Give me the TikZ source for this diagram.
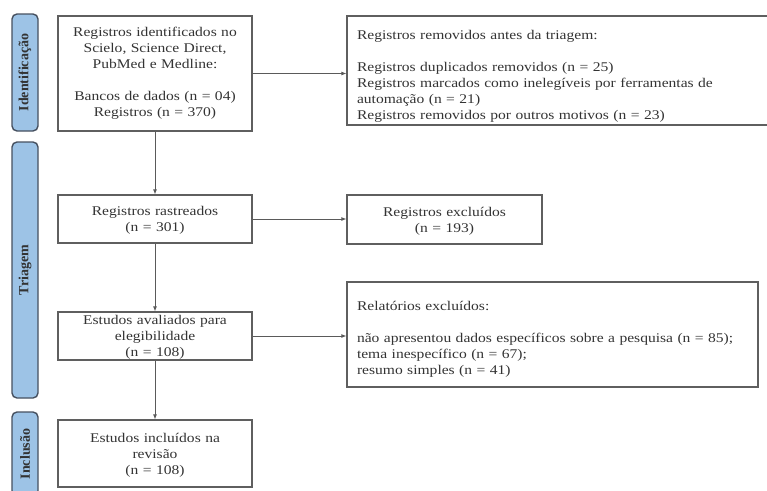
\documentclass[tikz,border=0pt]{standalone}
\usepackage{fontspec}
\setmainfont[FakeStretch=1.17]{Liberation Serif}
\newfontfamily\phasefont{Liberation Serif}
\usepackage{tikz}
\usetikzlibrary{positioning, arrows.meta, calc}
\definecolor{phasefill}{RGB}{157,195,230}
\definecolor{phasedraw}{RGB}{70,80,95}
\definecolor{boxdraw}{RGB}{95,95,95}
\definecolor{linkgray}{RGB}{90,90,90}
\newcommand{\topgap}[1]{\rule{0pt}{#1}}
\tikzset{
  phase/.style={
    draw=phasedraw, fill=phasefill, line width=1.4pt, rounded corners=5pt,
    minimum width=26pt, inner sep=0pt
  },
  phaselabel/.style={rotate=90, font=\phasefont\fontsize{14}{16}\selectfont\bfseries, text=black!80},
  flowbox/.style={
    draw=boxdraw, line width=1.3pt, minimum width=194pt, text width=188pt,
    align=center, inner sep=0pt, font=\fontsize{13.3}{16}\selectfont, text=black!80
  },
  sidebox/.style={
    draw=boxdraw, line width=1.3pt, align=left, inner sep=0pt,
    font=\fontsize{13.3}{16}\selectfont, text=black!80
  },
  link/.style={draw=linkgray, line width=0.8pt, -{Latex[length=5pt,width=4pt]}},
}
\begin{document}
\begin{tikzpicture}[x=1pt, y=-1pt]
  \useasboundingbox (0,0) rectangle (767,490);
  % fases
  \node[phase, minimum height=117pt] (pid) at (25,72.5) {};
  \node[phaselabel] at (pid) {Identificação};
  \node[phase, minimum height=256pt] (ptri) at (25,270) {};
  \node[phaselabel] at (ptri) {Triagem};
  \node[phase, minimum height=84pt] (pinc) at (25,454) {};
  \node[phaselabel] at (pinc) {Inclusão};
  % coluna principal
  \node[flowbox, minimum height=115pt] (ident) at (155,73.5)
    {Registros identificados no\\ Scielo, Science Direct,\\ PubMed e Medline:\\[16pt]
     Bancos de dados (n = 04)\\ Registros (n = 370)};
  \node[flowbox, minimum height=48pt] (rastr) at (155,219)
    {\topgap{12pt}Registros rastreados\\ (n = 301)};
  \node[flowbox, minimum height=48pt] (aval) at (155,336)
    {\topgap{12pt}Estudos avaliados para\\ elegibilidade\\ (n = 108)};
  \node[flowbox, minimum height=67pt] (incl) at (155,453.5)
    {\topgap{12pt}Estudos incluídos na\\ revisão\\ (n = 108)};
  % coluna lateral
  \node[sidebox, minimum height=109pt, minimum width=425pt, text width=405pt] (remov) at (559.5,70.5)
    {\topgap{21pt}Registros removidos antes da triagem:\\[16pt]
     Registros duplicados removidos (n = 25)\\
     Registros marcados como inelegíveis por ferramentas de\\
     automação (n = 21)\\
     Registros removidos por outros motivos (n = 23)};
  \node[sidebox, minimum height=49pt, minimum width=195pt, text width=185pt, align=center] (exclu) at (444.5,219.5)
    {\topgap{12pt}Registros excluídos\\ (n = 193)};
  \node[sidebox, minimum height=105pt, minimum width=411pt, text width=391pt] (relat) at (552.5,334.5)
    {\topgap{19pt}Relatórios excluídos:\\[16pt]
     não apresentou dados específicos sobre a pesquisa (n = 85);\\
     tema inespecífico (n = 67);\\
     resumo simples (n = 41)};
  % ligações
  \draw[link] (ident) -- (rastr);
  \draw[link] (rastr) -- (aval);
  \draw[link] (aval) -- (incl);
  \draw[link] (ident.east) -- (ident.east -| remov.west);
  \draw[link] (rastr.east) -- (rastr.east -| exclu.west);
  \draw[link] (aval.east) -- (aval.east -| relat.west);
\end{tikzpicture}
\end{document}
